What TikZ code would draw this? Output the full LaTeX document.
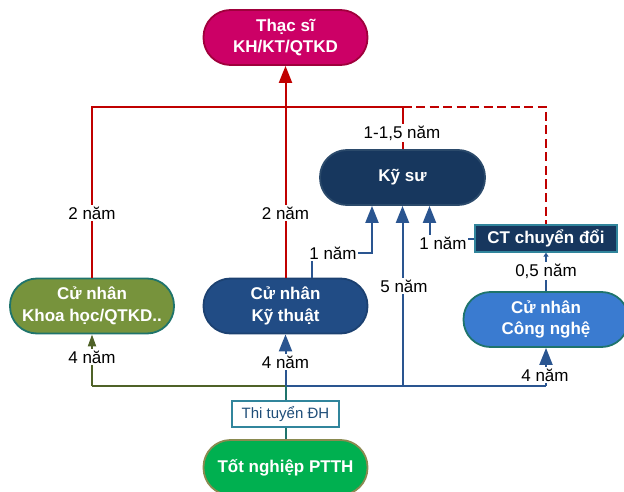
\documentclass[tikz,border=0pt]{standalone}
\usepackage{fontspec}
\setmainfont{Liberation Sans}
\usetikzlibrary{arrows.meta}

\definecolor{cMag}{HTML}{CC0066}
\definecolor{cMagD}{HTML}{A0003C}
\definecolor{cRed}{HTML}{C00000}
\definecolor{cNavy}{HTML}{17375E}
\definecolor{cNavyD}{HTML}{2B4A6B}
\definecolor{cBlue}{HTML}{214C85}
\definecolor{cLight}{HTML}{3A7BD0}
\definecolor{cOlive}{HTML}{77933C}
\definecolor{cGreen}{HTML}{00B050}
\definecolor{cGreenD}{HTML}{8A8A50}
\definecolor{cTeal}{HTML}{1F746C}
\definecolor{cTealL}{HTML}{31859C}
\definecolor{cLine}{HTML}{2A5590}
\definecolor{cOliveL}{HTML}{4F6228}
\definecolor{cThi}{HTML}{1F4E79}

\tikzset{
  stad/.style={rectangle, rounded corners=27pt, minimum width=164pt,
    minimum height=55pt, line width=1.8pt, text=white, align=center,
    inner sep=0pt, font=\bfseries\fontsize{17}{21.5}\selectfont},
  ctbox/.style={rectangle, minimum width=142pt, minimum height=27pt,
    fill=cNavy, draw=cTealL, line width=1.2pt, text=white, inner sep=0pt,
    font=\bfseries\fontsize{17}{20}\selectfont},
  thibox/.style={rectangle, minimum width=107pt, minimum height=26pt,
    fill=white, draw=cTealL, line width=1.2pt, text=cThi, inner sep=0pt,
    font=\fontsize{15}{18}\selectfont},
  lbl/.style={fill=white, inner sep=1.2pt, text=black,
    font=\fontsize{17}{20}\selectfont},
  redln/.style={draw=cRed, line width=2pt},
  blueln/.style={draw=cLine, line width=2pt},
  tipbig/.style={-{Triangle[width=13pt,length=17pt]}},
  tipsmall/.style={-{Triangle[width=8pt,length=12pt]}},
  tiptiny/.style={-{Triangle[width=5pt,length=4pt]}},
}

\begin{document}
\begin{tikzpicture}[x=1pt,y=-1pt]
\useasboundingbox (0,0) rectangle (624,492);

% degree nodes
\node[stad, fill=cMag, draw=cMagD] (ms) at (285.5,37.5) {Thạc sĩ\\KH/KT/QTKD};
\node[stad, fill=cNavy, draw=cNavyD, minimum width=165pt] (ks) at (402.5,177.5) {Kỹ sư};
\node[ctbox] (ct) at (546,238.5) {CT chuyển đổi};
\node[stad, fill=cOlive, draw=cTeal] (kh) at (92,306) {Cử nhân\\Khoa học/QTKD..};
\node[stad, fill=cBlue, draw=cBlue!85!black] (kt) at (285.5,306) {Cử nhân\\Kỹ thuật};
\node[stad, fill=cLight, draw=cTeal, minimum width=165pt] (cn) at (546,319.5) {Cử nhân\\Công nghệ};
\node[thibox] (thi) at (285.5,414) {Thi tuyển ĐH};
\node[stad, fill=cGreen, draw=cGreenD] (tn) at (285.5,467.5) {Tốt nghiệp PTTH};

% junction points
\coordinate (rL) at (92,107);
\coordinate (rK) at (402.5,107);
\coordinate (rR) at (546,107);
\coordinate (bL) at (92,386);
\coordinate (bM) at (285.5,386);
\coordinate (bK) at (402.5,386);
\coordinate (bR) at (546,386);
\coordinate (j1) at (312,253);
\coordinate (j2) at (372,253);
\coordinate (j3) at (429.5,0);

% paths to the master degree
\draw[redln] (kh.north) -- (rL) -- (rK) -- (ks.north);
\draw[redln, tipbig] (kt.north) -- (ms.south);
\draw[redln, dashed, dash pattern=on 9pt off 4.5pt] (rK) -- (rR) -- (ct.north);

% paths to the engineer degree
\draw[blueln, tipbig] (kt.north -| j1) -- (j1) -- (j2) -- (j2 |- ks.south);
\draw[blueln, tipbig] (bK) -- (bK |- ks.south);
\draw[blueln, tipbig] (ct.west) -| (j3 |- ks.south);
\draw[blueln, tiptiny] (cn.north) -- (ct.south);

% entry level
\draw[draw=cOliveL, line width=2pt] (bM) -- (bL);
\draw[draw=cOliveL, line width=2pt, tipsmall] (bL) -- (kh.south);
\draw[blueln] (bM) -- (bR);
\draw[blueln, tipbig] (bM) -- (kt.south);
\draw[blueln, tipbig] (bR) -- (cn.south);
\draw[draw=cTeal, line width=2pt] (tn.north) -- (thi.south);
\draw[draw=cTeal, line width=2pt] (thi.north) -- (bM);

% durations
\node[lbl] (l1) at (92,213) {2 năm};
\node[lbl] (l2) at (285.5,213) {2 năm};
\node[lbl] (l3) at (402,133) {1-1,5 năm};
\node[lbl] (l4) at (333,253) {1 năm};
\node[lbl] (l5) at (404,286) {5 năm};
\node[lbl] (l6) at (443,243) {1 năm};
\node[lbl] (l7) at (546,271) {0,5 năm};
\node[lbl] (l8) at (92,357) {4 năm};
\node[lbl] (l9) at (285.5,362) {4 năm};
\node[lbl] (l10) at (545,375) {4 năm};
\end{tikzpicture}
\end{document}
